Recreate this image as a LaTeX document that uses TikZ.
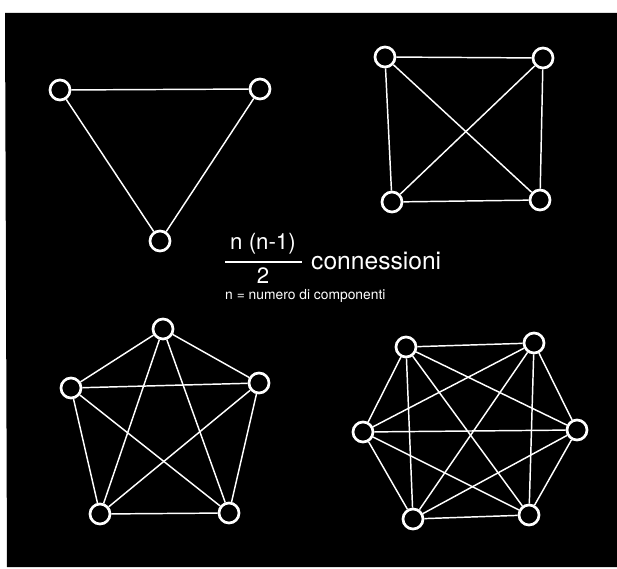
\documentclass[tikz,border=0pt]{standalone}
\usepackage{fontspec}
\setmainfont{TeX Gyre Heros}
\begin{document}
\begin{tikzpicture}[x=0.03cm,y=-0.03cm,
  vtx/.style={circle,draw=white,fill=black,line width=2.3pt,minimum size=0.6cm,inner sep=0pt},
  edge/.style={draw=white,line width=1.25pt},
  bigtxt/.style={text=white,font=\fontsize{19}{22}\selectfont,inner sep=0pt},
  smalltxt/.style={text=white,font=\fontsize{11.8}{14}\selectfont,inner sep=0pt}]
\useasboundingbox (0,0) rectangle (617,569);
\fill[white] (0,0) rectangle (617,569);
\fill[black] (5,13) -- (617,13) -- (617,567) -- (7,567) -- cycle;
% triangle
\node[vtx] (t1) at (60,90) {};
\node[vtx] (t2) at (260,89) {};
\node[vtx] (t3) at (160,241) {};
\foreach \a/\b in {t1/t2,t1/t3,t2/t3} \draw[edge] (\a) -- (\b);
% square
\node[vtx] (s1) at (385,57) {};
\node[vtx] (s2) at (543,58) {};
\node[vtx] (s3) at (392,202) {};
\node[vtx] (s4) at (540,200) {};
\foreach \a/\b in {s1/s2,s1/s3,s1/s4,s2/s3,s2/s4,s3/s4} \draw[edge] (\a) -- (\b);
% pentagon
\node[vtx] (p1) at (163,329) {};
\node[vtx] (p2) at (71,388) {};
\node[vtx] (p3) at (259,383) {};
\node[vtx] (p4) at (100,514) {};
\node[vtx] (p5) at (229,513) {};
\foreach \a/\b in {p1/p2,p1/p3,p1/p4,p1/p5,p2/p3,p2/p4,p2/p5,p3/p4,p3/p5,p4/p5} \draw[edge] (\a) -- (\b);
% hexagon
\node[vtx] (h1) at (406,347) {};
\node[vtx] (h2) at (534,343) {};
\node[vtx] (h3) at (363,432) {};
\node[vtx] (h4) at (577,430) {};
\node[vtx] (h5) at (413,519) {};
\node[vtx] (h6) at (529,515) {};
\foreach \a/\b in {h1/h2,h1/h3,h1/h4,h1/h5,h1/h6,h2/h3,h2/h4,h2/h5,h2/h6,h3/h4,h3/h5,h3/h6,h4/h5,h4/h6,h5/h6} \draw[edge] (\a) -- (\b);
% formula
\node[bigtxt] (num) at (263,244) {n (n-1)};
\coordinate (barL) at (225,262);
\coordinate (barR) at (302,262);
\draw[white,line width=1.1pt] (barL) -- (barR);
\node[bigtxt] (den) at (263,276) {2};
\node[bigtxt,anchor=west,font=\fontsize{21}{24}\selectfont] (conn) at (311,261) {connessioni};
\node[smalltxt,anchor=west] (legend) at (225,296) {n = numero di componenti};
\end{tikzpicture}
\end{document}
